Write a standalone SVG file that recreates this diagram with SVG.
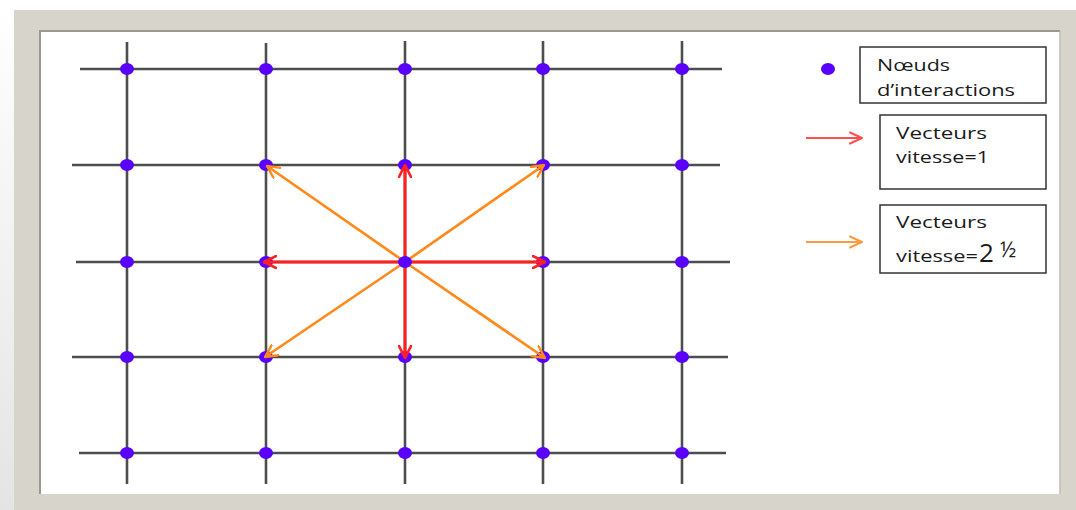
<svg xmlns="http://www.w3.org/2000/svg" width="1076" height="510" viewBox="0 0 1076 510">
<defs>
<linearGradient id="topfade" x1="0" y1="0" x2="0" y2="1">
<stop offset="0" stop-color="#ffffff"/>
<stop offset="1" stop-color="#e4e4e4"/>
</linearGradient>
<marker id="hr" viewBox="0 0 14 14" refX="13" refY="7" markerWidth="14" markerHeight="14" markerUnits="userSpaceOnUse" orient="auto">
<path d="M1,1 L13,7 L1,13" fill="none" stroke="#ff2020" stroke-width="2.6" stroke-linecap="round" stroke-linejoin="round"/>
</marker>
<marker id="ho" viewBox="0 0 14 14" refX="13" refY="7" markerWidth="14" markerHeight="14" markerUnits="userSpaceOnUse" orient="auto">
<path d="M1,1 L13,7 L1,13" fill="none" stroke="#ff8a1c" stroke-width="2.4" stroke-linecap="round" stroke-linejoin="round"/>
</marker>
<marker id="hrl" viewBox="0 0 14 14" refX="13" refY="7" markerWidth="14" markerHeight="14" markerUnits="userSpaceOnUse" orient="auto">
<path d="M1,1.5 L13,7 L1,12.5" fill="none" stroke="#ff5050" stroke-width="2" stroke-linecap="round" stroke-linejoin="round"/>
</marker>
<marker id="hol" viewBox="0 0 14 14" refX="13" refY="7" markerWidth="14" markerHeight="14" markerUnits="userSpaceOnUse" orient="auto">
<path d="M1,1.5 L13,7 L1,12.5" fill="none" stroke="#ff9a40" stroke-width="2" stroke-linecap="round" stroke-linejoin="round"/>
</marker>
</defs>
<style>
.grid line{stroke:#4d4d4d;stroke-width:2.6}
.node{fill:#5a00ff}
.red{stroke:#ff2020;stroke-width:3;fill:none}
.orange{stroke:#ff8a1c;stroke-width:2.7;fill:none}
.box{fill:#ffffff;stroke:#333333;stroke-width:1.5}
.lbl{font-family:"Open Sans","Liberation Sans",sans-serif;font-size:16.5px;fill:#1a1a1a}
</style>
<!-- frame -->
<rect x="0" y="0" width="1076" height="510" fill="url(#topfade)"/>
<rect x="14" y="10" width="1062" height="500" fill="#d7d4cb"/>
<rect x="40" y="31" width="1020" height="463" fill="#ffffff"/>
<path d="M40,494 L40,31 L1060,31" fill="none" stroke="#9a9890" stroke-width="2"/>
<path d="M1060,31 L1060,494" fill="none" stroke="#c0bdb5" stroke-width="1.5"/>
<!-- grid lines -->
<g id="grid" class="grid">
<line x1="127" y1="42" x2="127" y2="484"/>
<line x1="266" y1="43" x2="266" y2="484"/>
<line x1="405" y1="41" x2="405" y2="484"/>
<line x1="543" y1="41" x2="543" y2="484"/>
<line x1="682" y1="41" x2="682" y2="484"/>
<line x1="80" y1="69" x2="722" y2="69"/>
<line x1="72" y1="165" x2="720" y2="165"/>
<line x1="76" y1="262" x2="730" y2="262"/>
<line x1="72" y1="357" x2="728" y2="357"/>
<line x1="79" y1="453" x2="726" y2="453"/>
</g>
<!-- nodes -->
<g id="nodes">
<g id="n00"><ellipse class="node" cx="127" cy="69" rx="7" ry="6"/></g>
<g id="n01"><ellipse class="node" cx="266" cy="69" rx="7" ry="6"/></g>
<g id="n02"><ellipse class="node" cx="405" cy="69" rx="7" ry="6"/></g>
<g id="n03"><ellipse class="node" cx="543" cy="69" rx="7" ry="6"/></g>
<g id="n04"><ellipse class="node" cx="682" cy="69" rx="7" ry="6"/></g>
<g id="n10"><ellipse class="node" cx="127" cy="165" rx="7" ry="6"/></g>
<g id="n11"><ellipse class="node" cx="266" cy="165" rx="7" ry="6"/></g>
<g id="n12"><ellipse class="node" cx="405" cy="165" rx="7" ry="6"/></g>
<g id="n13"><ellipse class="node" cx="543" cy="165" rx="7" ry="6"/></g>
<g id="n14"><ellipse class="node" cx="682" cy="165" rx="7" ry="6"/></g>
<g id="n20"><ellipse class="node" cx="127" cy="262" rx="7" ry="6"/></g>
<g id="n21"><ellipse class="node" cx="266" cy="262" rx="7" ry="6"/></g>
<g id="n23"><ellipse class="node" cx="543" cy="262" rx="7" ry="6"/></g>
<g id="n24"><ellipse class="node" cx="682" cy="262" rx="7" ry="6"/></g>
<g id="n30"><ellipse class="node" cx="127" cy="357" rx="7" ry="6"/></g>
<g id="n31"><ellipse class="node" cx="266" cy="357" rx="7" ry="6"/></g>
<g id="n32"><ellipse class="node" cx="405" cy="357" rx="7" ry="6"/></g>
<g id="n33"><ellipse class="node" cx="543" cy="357" rx="7" ry="6"/></g>
<g id="n34"><ellipse class="node" cx="682" cy="357" rx="7" ry="6"/></g>
<g id="n40"><ellipse class="node" cx="127" cy="453" rx="7" ry="6"/></g>
<g id="n41"><ellipse class="node" cx="266" cy="453" rx="7" ry="6"/></g>
<g id="n42"><ellipse class="node" cx="405" cy="453" rx="7" ry="6"/></g>
<g id="n43"><ellipse class="node" cx="543" cy="453" rx="7" ry="6"/></g>
<g id="n44"><ellipse class="node" cx="682" cy="453" rx="7" ry="6"/></g>
</g>
<!-- connectors -->
<g id="connectors">
<line class="orange" x1="405" y1="262" x2="267" y2="166" marker-end="url(#ho)"/>
<line class="orange" x1="405" y1="262" x2="544" y2="165" marker-end="url(#ho)"/>
<line class="orange" x1="405" y1="262" x2="265" y2="357" marker-end="url(#ho)"/>
<line class="orange" x1="405" y1="262" x2="545" y2="358" marker-end="url(#ho)"/>
<line class="red" x1="405" y1="262" x2="405" y2="165" marker-end="url(#hr)"/>
<line class="red" x1="405" y1="262" x2="264" y2="262" marker-end="url(#hr)"/>
<line class="red" x1="405" y1="262" x2="545" y2="262" marker-end="url(#hr)"/>
<line class="red" x1="405" y1="262" x2="405" y2="358" marker-end="url(#hr)"/>
<line x1="806" y1="138" x2="862" y2="138" stroke="#ff5050" stroke-width="2" marker-end="url(#hrl)"/>
<line x1="806" y1="242" x2="862" y2="242" stroke="#ff9a40" stroke-width="2" marker-end="url(#hol)"/>
</g>
<g id="n22"><ellipse class="node" cx="405" cy="262" rx="7" ry="6"/></g>
<g id="legend-dot"><ellipse class="node" cx="828" cy="69" rx="7" ry="6"/></g>
<!-- legend boxes -->
<g id="legend-nodes">
<rect class="box" x="860" y="47" width="186" height="56"/>
<text class="lbl" x="877" y="71" textLength="73" lengthAdjust="spacingAndGlyphs">Nœuds</text>
<text class="lbl" x="877" y="96" textLength="138" lengthAdjust="spacingAndGlyphs">d’interactions</text>
</g>
<g id="legend-v1">
<rect class="box" x="880" y="115" width="166" height="74"/>
<text class="lbl" x="896" y="139" textLength="91" lengthAdjust="spacingAndGlyphs">Vecteurs</text>
<text class="lbl" x="896" y="163" textLength="93" lengthAdjust="spacingAndGlyphs">vitesse=1</text>
</g>
<g id="legend-v2">
<rect class="box" x="880" y="205" width="166" height="68"/>
<text class="lbl" x="896" y="262"><tspan textLength="82" lengthAdjust="spacingAndGlyphs">vitesse=</tspan><tspan x="979" font-size="26">2</tspan><tspan x="1000" y="257" font-size="21">½</tspan></text>
<text class="lbl" x="896" y="228" textLength="91" lengthAdjust="spacingAndGlyphs">Vecteurs</text>
</g>
</svg>
